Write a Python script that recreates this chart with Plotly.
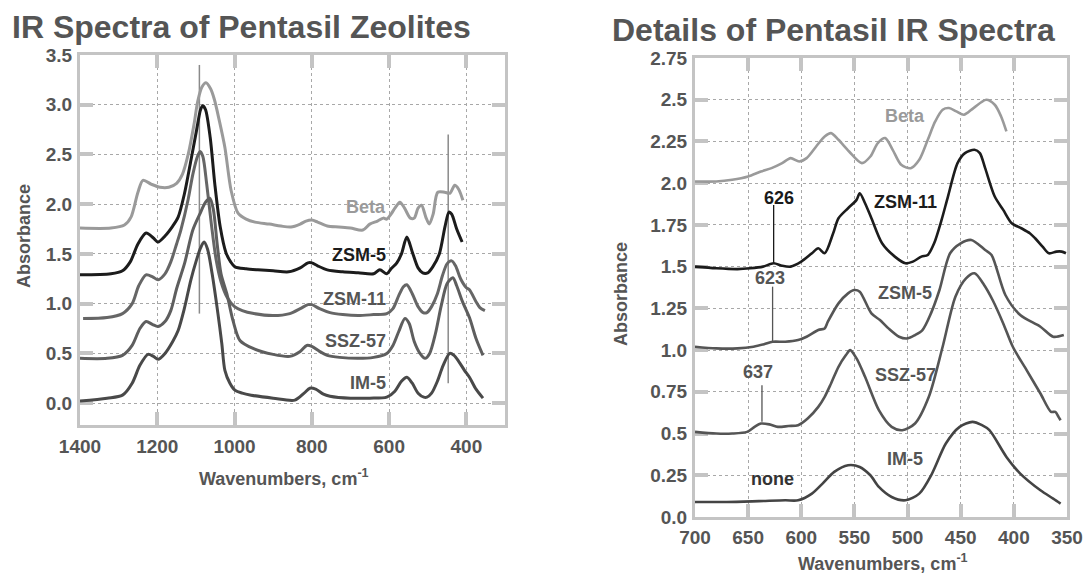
import plotly.graph_objects as go

# ---------------- Full-range spectra (left panel) ----------------
beta_l_wn = [1400, 1320, 1285, 1268, 1250, 1237, 1215, 1193, 1170, 1150, 1135, 1120, 1105, 1095, 1084,
             1074, 1062, 1052, 1040, 1025, 1009, 991, 970, 947, 910, 880, 854, 830, 815, 800, 785, 760,
             730, 700, 668, 650, 630, 615, 606, 595, 585, 572, 560, 545, 535, 525, 516, 505, 496, 486,
             474, 456, 443, 430, 420, 409]
beta_l_ab = [1.76, 1.76, 1.79, 1.87, 2.12, 2.24, 2.20, 2.17, 2.17, 2.21, 2.30, 2.50, 2.80, 3.04, 3.18,
             3.22, 3.16, 3.05, 2.85, 2.57, 2.14, 1.91, 1.85, 1.82, 1.80, 1.78, 1.77, 1.80, 1.83, 1.84, 1.82, 1.78,
             1.77, 1.76, 1.74, 1.80, 1.83, 1.86, 1.85, 1.90, 1.96, 2.02, 1.96, 1.86, 1.86, 1.96, 1.99, 1.87, 1.80, 1.90,
             2.12, 2.12, 2.11, 2.19, 2.15, 2.04]

zsm5_l_wn = [1400, 1320, 1290, 1270, 1250, 1229, 1210, 1198, 1180, 1160, 1146, 1130, 1113, 1098, 1088,
             1082, 1075, 1063, 1051, 1037, 1022, 1010, 999, 970, 940, 900, 860, 830, 810, 800, 785, 760,
             720, 680, 640, 624, 606, 595, 580, 568, 554, 540, 525, 513, 500, 487, 470, 455, 445, 438,
             425, 411]
zsm5_l_ab = [1.29, 1.30, 1.33, 1.42, 1.60, 1.71, 1.66, 1.62, 1.68, 1.78, 1.87, 2.10, 2.44, 2.75, 2.95,
             2.99, 2.95, 2.67, 2.20, 1.77, 1.51, 1.42, 1.37, 1.35, 1.34, 1.33, 1.32, 1.36, 1.41, 1.41, 1.38, 1.34,
             1.32, 1.31, 1.30, 1.34, 1.30, 1.35, 1.41, 1.50, 1.67, 1.52, 1.36, 1.31, 1.31, 1.37, 1.50, 1.78, 1.92, 1.90,
             1.75, 1.62]

zsm11_l_wn = [1392, 1330, 1290, 1265, 1248, 1229, 1212, 1198, 1180, 1165, 1150, 1139, 1120, 1108, 1096,
              1089, 1082, 1072, 1060, 1048, 1035, 1020, 1000, 980, 950, 900, 857, 830, 810, 800, 780, 753,
              720, 680, 640, 606, 590, 575, 563, 554, 540, 525, 512, 502, 490, 475, 462, 450, 438, 428,
              415, 400, 392, 375, 365, 352]
zsm11_l_ab = [0.85, 0.86, 0.90, 1.00, 1.18, 1.29, 1.27, 1.24, 1.30, 1.42, 1.60, 1.74, 2.05, 2.30, 2.48,
              2.53, 2.48, 2.20, 1.80, 1.45, 1.22, 1.07, 0.97, 0.93, 0.90, 0.88, 0.90, 0.95, 0.99, 0.99, 0.95, 0.91,
              0.89, 0.88, 0.89, 0.90, 0.95, 1.08, 1.17, 1.19, 1.10, 0.97, 0.91, 0.91, 0.97, 1.10, 1.28, 1.40, 1.43, 1.38,
              1.25, 1.16, 1.14, 1.02, 0.96, 0.93]

ssz57_l_wn = [1400, 1330, 1290, 1265, 1245, 1229, 1212, 1198, 1180, 1165, 1150, 1129, 1108, 1090, 1075,
              1064, 1055, 1045, 1035, 1020, 1004, 986, 952, 900, 857, 830, 813, 800, 780, 760, 728, 680,
              640, 606, 590, 575, 559, 548, 535, 520, 507, 495, 480, 465, 450, 435, 425, 410, 392, 375,
              357]
ssz57_l_ab = [0.45, 0.45, 0.48, 0.58, 0.75, 0.82, 0.79, 0.77, 0.82, 0.93, 1.15, 1.41, 1.74, 1.90, 2.02,
              2.06, 1.95, 1.60, 1.30, 1.10, 0.83, 0.63, 0.55, 0.49, 0.47, 0.52, 0.58, 0.57, 0.52, 0.48, 0.46, 0.45,
              0.46, 0.50, 0.58, 0.72, 0.85, 0.80, 0.62, 0.50, 0.45, 0.50, 0.70, 0.98, 1.20, 1.26, 1.18, 1.02, 0.86, 0.65,
              0.48]

im5_l_wn = [1400, 1330, 1290, 1265, 1245, 1224, 1210, 1198, 1180, 1160, 1146, 1130, 1113, 1100, 1088,
            1079, 1070, 1058, 1043, 1033, 1025, 1012, 999, 980, 957, 900, 844, 820, 805, 790, 770, 753,
            700, 650, 606, 585, 568, 554, 540, 525, 510, 502, 490, 475, 460, 443, 432, 420, 405, 392,
            375, 357]
im5_l_ab = [0.02, 0.05, 0.08, 0.20, 0.38, 0.49, 0.47, 0.44, 0.50, 0.62, 0.73, 0.95, 1.24, 1.42, 1.56,
            1.62, 1.55, 1.30, 0.90, 0.60, 0.33, 0.20, 0.13, 0.10, 0.08, 0.05, 0.03, 0.10, 0.15, 0.14, 0.09, 0.07,
            0.05, 0.05, 0.06, 0.12, 0.22, 0.26, 0.20, 0.10, 0.06, 0.06, 0.10, 0.22, 0.38, 0.50, 0.48, 0.42, 0.33, 0.26,
            0.14, 0.05]

# ---------------- Detail spectra (right panel) ----------------
beta_r_wn = [700, 680, 665, 650, 638, 628, 618, 610, 602, 595, 586, 578, 572, 565, 555, 543, 535, 528,
             521, 514, 506, 497, 489, 481, 474, 467, 461, 454, 447, 438, 426, 418, 412, 407]
beta_r_ab = [2.01, 2.01, 2.02, 2.04, 2.07, 2.09, 2.12, 2.15, 2.13, 2.15, 2.22, 2.28, 2.30, 2.26, 2.19, 2.12,
             2.16, 2.24, 2.27, 2.20, 2.11, 2.09, 2.14, 2.26, 2.37, 2.44, 2.45, 2.43, 2.41, 2.45, 2.50, 2.47, 2.40, 2.31]

zsm11_r_wn = [700, 680, 660, 648, 636, 626, 618, 610, 600, 590, 584, 578, 570, 565, 556, 548, 545, 540,
              534, 524, 512, 502, 495, 487, 481, 475, 468, 462, 453, 446, 437, 432, 427, 418, 410, 402,
              393, 385, 380, 373, 367, 360, 355, 351]
zsm11_r_ab = [1.50, 1.49, 1.485, 1.49, 1.50, 1.52, 1.505, 1.50, 1.53, 1.58, 1.61, 1.58, 1.70, 1.79, 1.85,
              1.90, 1.94, 1.88, 1.79, 1.64, 1.56, 1.52, 1.53, 1.56, 1.57, 1.64, 1.78, 1.92, 2.12, 2.18, 2.20, 2.18,
              2.09, 1.92, 1.84, 1.76, 1.73, 1.70, 1.67, 1.62, 1.58, 1.59, 1.59, 1.58]

zsm5_r_wn = [700, 680, 660, 645, 635, 627, 615, 603, 595, 584, 578, 575, 565, 556, 550, 545, 534, 526,
             518, 508, 500, 493, 486, 478, 470, 460, 450, 440, 427, 421, 408, 394, 375, 363, 353]
zsm5_r_ab = [1.02, 1.01, 1.01, 1.02, 1.035, 1.05, 1.05, 1.06, 1.08, 1.12, 1.13, 1.17, 1.28, 1.34, 1.36,
             1.35, 1.22, 1.18, 1.13, 1.08, 1.07, 1.09, 1.12, 1.22, 1.36, 1.58, 1.64, 1.66, 1.60, 1.57, 1.33, 1.21,
             1.14, 1.08, 1.09]

ssz57_r_wn = [700, 680, 665, 651, 644, 638, 630, 622, 612, 603, 594, 584, 578, 572, 565, 558, 554, 548,
              540, 527, 515, 505, 493, 480, 467, 455, 445, 437, 428, 420, 410, 401, 388, 375, 365, 361,
              358, 356]
ssz57_r_ab = [0.51, 0.50, 0.50, 0.51, 0.54, 0.56, 0.555, 0.54, 0.545, 0.55, 0.59, 0.66, 0.72, 0.80, 0.90,
              0.97, 1.00, 0.95, 0.84, 0.64, 0.54, 0.52, 0.56, 0.72, 1.02, 1.32, 1.43, 1.46, 1.39, 1.30, 1.16, 1.02,
              0.88, 0.74, 0.63, 0.63, 0.60, 0.58]

im5_r_wn = [700, 670, 640, 615, 603, 590, 580, 569, 556, 545, 535, 527, 515, 502, 489, 477, 464, 451,
            439, 430, 423, 407, 394, 375, 363, 356]
im5_r_ab = [0.09, 0.09, 0.095, 0.10, 0.10, 0.14, 0.20, 0.27, 0.31, 0.30, 0.25, 0.18, 0.12, 0.10, 0.14,
            0.26, 0.44, 0.54, 0.57, 0.55, 0.52, 0.36, 0.26, 0.16, 0.11, 0.08]

# ---------------- Peak markers ----------------
left_marker_wn = [1091, 447]
left_marker_lo = [0.90, 0.20]
left_marker_hi = [3.40, 2.70]

right_marker_wn = [626, 627, 637]
right_marker_lo = [1.52, 1.05, 0.57]
right_marker_hi = [1.87, 1.38, 0.79]
right_marker_text = ["626", "623", "637"]
right_marker_text_x = [621, 629, 641]
right_marker_text_y = [1.91, 1.43, 0.87]
right_marker_color = ["#1a1a1a", "#555555", "#555555"]

# ---------------- Series labels ----------------
left_names = ["Beta", "ZSM-5", "ZSM-11", "SSZ-57", "IM-5"]
left_label_y = [1.97, 1.49, 1.05, 0.62, 0.20]
right_names = ["Beta", "ZSM-11", "ZSM-5", "SSZ-57", "IM-5"]
right_label_y = [2.40, 1.89, 1.34, 0.85, 0.35]

FONT = "Liberation Sans"
TEXT = "#555555"
GRID = "#a8a8a8"
FRAME = "#c4c4c4"

left_series = [
    (beta_l_wn, beta_l_ab, "#9a9a9a"),
    (zsm5_l_wn, zsm5_l_ab, "#1c1c1c"),
    (zsm11_l_wn, zsm11_l_ab, "#666666"),
    (ssz57_l_wn, ssz57_l_ab, "#5e5e5e"),
    (im5_l_wn, im5_l_ab, "#494949"),
]
right_series = [
    (beta_r_wn, beta_r_ab, "#9a9a9a"),
    (zsm11_r_wn, zsm11_r_ab, "#1c1c1c"),
    (zsm5_r_wn, zsm5_r_ab, "#555555"),
    (ssz57_r_wn, ssz57_r_ab, "#555555"),
    (im5_r_wn, im5_r_ab, "#444444"),
]
left_label_colors = ["#9a9a9a", "#1c1c1c", "#555555", "#555555", "#555555"]
right_label_colors = ["#9a9a9a", "#1c1c1c", "#555555", "#555555", "#555555"]

W, H = 1083, 573

fig = go.Figure()

# peak marker lines (drawn first, under spectra)
for wn, lo, hi in zip(left_marker_wn, left_marker_lo, left_marker_hi):
    fig.add_trace(go.Scatter(x=[wn, wn], y=[lo, hi], mode="lines", xaxis="x", yaxis="y",
                             line=dict(color="#8a8a8a", width=1.5), hoverinfo="skip"))
for wn, lo, hi, c in zip(right_marker_wn, right_marker_lo, right_marker_hi, right_marker_color):
    fig.add_trace(go.Scatter(x=[wn, wn], y=[lo, hi], mode="lines", xaxis="x2", yaxis="y2",
                             line=dict(color=c, width=1.3), hoverinfo="skip"))

for wn, ab, col in left_series:
    fig.add_trace(go.Scatter(x=wn, y=ab, mode="lines", xaxis="x", yaxis="y", cliponaxis=False,
                             line=dict(color=col, width=3, shape="spline", smoothing=0.8)))
for wn, ab, col in right_series:
    fig.add_trace(go.Scatter(x=wn, y=ab, mode="lines", xaxis="x2", yaxis="y2", cliponaxis=False,
                             line=dict(color=col, width=2.6, shape="spline", smoothing=0.8)))

LABEL = 18
annotations = []
for name, y, c in zip(left_names, left_label_y, left_label_colors):
    annotations.append(dict(x=604, y=y, xref="x", yref="y", text=name, showarrow=False,
                            xanchor="right", yanchor="middle",
                            font=dict(family=FONT, size=LABEL, color=c, weight="bold")))
for name, y, c in zip(right_names, right_label_y, right_label_colors):
    annotations.append(dict(x=502, y=y, xref="x2", yref="y2", text=name, showarrow=False,
                            xanchor="center", yanchor="middle",
                            font=dict(family=FONT, size=LABEL, color=c, weight="bold")))
for t, x, y, c in zip(right_marker_text, right_marker_text_x, right_marker_text_y, right_marker_color):
    annotations.append(dict(x=x, y=y, xref="x2", yref="y2", text=t, showarrow=False,
                            xanchor="center", yanchor="middle",
                            font=dict(family=FONT, size=LABEL, color=c, weight="bold")))
annotations.append(dict(x=627, y=0.23, xref="x2", yref="y2", text="none", showarrow=False,
                        xanchor="center", yanchor="middle",
                        font=dict(family=FONT, size=LABEL, color="#333333", weight="bold")))

# panel titles and axis titles
annotations += [
    dict(x=241 / W, y=1 - 27 / H, xref="paper", yref="paper", text="IR Spectra of Pentasil Zeolites",
         showarrow=False, xanchor="center", yanchor="middle",
         font=dict(family=FONT, size=32, color=TEXT, weight="bold")),
    dict(x=833 / W, y=1 - 30 / H, xref="paper", yref="paper", text="Details of Pentasil IR Spectra",
         showarrow=False, xanchor="center", yanchor="middle",
         font=dict(family=FONT, size=32, color=TEXT, weight="bold")),
    dict(x=24 / W, y=1 - 236 / H, xref="paper", yref="paper", text="Absorbance", textangle=-90,
         showarrow=False, xanchor="center", yanchor="middle",
         font=dict(family=FONT, size=18, color=TEXT, weight="bold")),
    dict(x=621 / W, y=1 - 294 / H, xref="paper", yref="paper", text="Absorbance", textangle=-90,
         showarrow=False, xanchor="center", yanchor="middle",
         font=dict(family=FONT, size=18, color=TEXT, weight="bold")),
    dict(x=284 / W, y=1 - 477 / H, xref="paper", yref="paper", text="Wavenumbers, cm<sup>-1</sup>",
         showarrow=False, xanchor="center", yanchor="middle",
         font=dict(family=FONT, size=18, color=TEXT, weight="bold")),
    dict(x=883 / W, y=1 - 562 / H, xref="paper", yref="paper", text="Wavenumbers, cm<sup>-1</sup>",
         showarrow=False, xanchor="center", yanchor="middle",
         font=dict(family=FONT, size=18, color=TEXT, weight="bold")),
]

tickfont = dict(family=FONT, size=19, color=TEXT, weight="bold")
common = dict(showline=True, linewidth=3, linecolor=FRAME, mirror="ticks",
              ticks="inside", ticklen=13, tickwidth=4, tickcolor=FRAME,
              showgrid=True, gridcolor=GRID, gridwidth=1.4, griddash="dot",
              zeroline=False, tickfont=tickfont, automargin=False, layer="below traces")

left_y_ticks = [0.0, 0.5, 1.0, 1.5, 2.0, 2.5, 3.0, 3.5]
right_y_ticks = [0.0, 0.25, 0.5, 0.75, 1.0, 1.25, 1.5, 1.75, 2.0, 2.25, 2.5, 2.75]
right_y_text = ["0.0", "0.25", "0.5", "0.75", "1.0", "1.25", "1.5", "1.75", "2.0", "2.25", "2.5", "2.75"]
left_x_ticks = [1400, 1200, 1000, 800, 600, 400]
right_x_ticks = [700, 650, 600, 550, 500, 450, 400, 350]

fig.update_layout(
    width=W, height=H,
    margin=dict(l=0, r=0, t=0, b=0, autoexpand=False),
    paper_bgcolor="white", plot_bgcolor="white",
    showlegend=False,
    xaxis=dict(domain=[80 / W, 505 / W], range=[1400, 300], anchor="y",
               tickvals=left_x_ticks, ticklabelstandoff=2, **common),
    yaxis=dict(domain=[1 - 425 / H, 1 - 55 / H], range=[-0.22, 3.5], anchor="x",
               tickvals=left_y_ticks, tickformat=".1f", ticklabelstandoff=1, **common),
    xaxis2=dict(domain=[695 / W, 1067 / W], range=[700, 350], anchor="y2",
                tickvals=right_x_ticks, ticklabelstandoff=1, **common),
    yaxis2=dict(domain=[1 - 517 / H, 1 - 58 / H], range=[0, 2.75], anchor="x2",
                tickvals=right_y_ticks, ticktext=right_y_text, ticklabelstandoff=1, **common),
    annotations=annotations,
)

fig.write_html("out.html")
